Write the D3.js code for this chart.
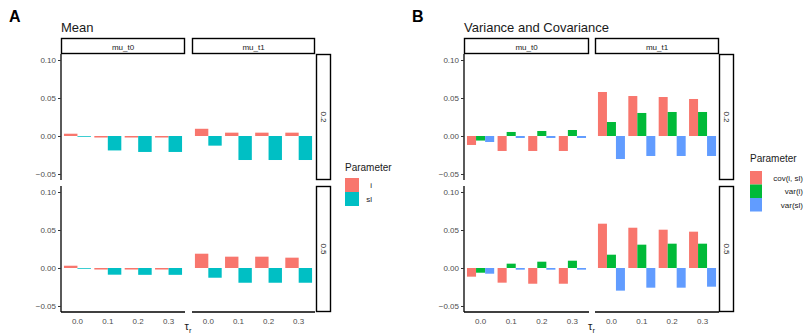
<!DOCTYPE html>
<html><head><meta charset="utf-8">
<script src="https://cdn.jsdelivr.net/npm/d3@7"></script>
<style>body{margin:0;background:#fff}svg{display:block;font-family:"Liberation Sans",Arial,sans-serif}</style>
</head><body><svg id="c" width="804" height="335"></svg>
<script>
// ---- data ----
const tauLabels = ["0.0", "0.1", "0.2", "0.3"];
const muLevels = ["mu_t0", "mu_t1"];
const rowLevels = ["0.2", "0.5"];
const yTicks = [-0.05, 0, 0.05, 0.10];
const meanParams = ["i", "sl"];
const varParams = ["cov(i, sl)", "var(i)", "var(sl)"];
const meanColors = ["#F8766D", "#00BFC4"];
const varColors = ["#F8766D", "#00BA38", "#619CFF"];

// Mean: [row][mu][param][tau]
const mean_r02_t0_i  = [0.003, -0.002, -0.002, -0.002];
const mean_r02_t0_sl = [-0.001, -0.019, -0.021, -0.021];
const mean_r02_t1_i  = [0.0095, 0.0044, 0.0044, 0.0044];
const mean_r02_t1_sl = [-0.0127, -0.0316, -0.0316, -0.0316];
const mean_r05_t0_i  = [0.003, -0.002, -0.002, -0.002];
const mean_r05_t0_sl = [-0.001, -0.0088, -0.009, -0.009];
const mean_r05_t1_i  = [0.0188, 0.0149, 0.0149, 0.0136];
const mean_r05_t1_sl = [-0.0128, -0.0194, -0.0194, -0.0194];

// Variance/covariance
const var_r02_t0_cov = [-0.0118, -0.0197, -0.0197, -0.0197];
const var_r02_t0_vi  = [-0.006, 0.0053, 0.0066, 0.0079];
const var_r02_t0_vsl = [-0.0079, -0.0026, -0.0026, -0.0026];
const var_r02_t1_cov = [0.0579, 0.0526, 0.0513, 0.0487];
const var_r02_t1_vi  = [0.0184, 0.0303, 0.0316, 0.0316];
const var_r02_t1_vsl = [-0.0303, -0.0263, -0.0263, -0.0263];
const var_r05_t0_cov = [-0.0114, -0.0193, -0.0207, -0.0207];
const var_r05_t0_vi  = [-0.0062, 0.0057, 0.0083, 0.0096];
const var_r05_t0_vsl = [-0.0075, -0.0022, -0.0022, -0.0022];
const var_r05_t1_cov = [0.0583, 0.053, 0.0504, 0.0478];
const var_r05_t1_vi  = [0.0175, 0.0307, 0.032, 0.032];
const var_r05_t1_vsl = [-0.0298, -0.0259, -0.0259, -0.0246];

const meanData = [
  [[mean_r02_t0_i, mean_r02_t0_sl], [mean_r02_t1_i, mean_r02_t1_sl]],
  [[mean_r05_t0_i, mean_r05_t0_sl], [mean_r05_t1_i, mean_r05_t1_sl]]
];
const varData = [
  [[var_r02_t0_cov, var_r02_t0_vi, var_r02_t0_vsl], [var_r02_t1_cov, var_r02_t1_vi, var_r02_t1_vsl]],
  [[var_r05_t0_cov, var_r05_t0_vi, var_r05_t0_vsl], [var_r05_t1_cov, var_r05_t1_vi, var_r05_t1_vsl]]
];

const svg = d3.select("#c");
const yDomain = [-0.0579, 0.1079];

function drawFigure(cfg) {
  const g = svg.append("g");
  g.append("text").attr("x", cfg.tagX).attr("y", 22).attr("font-size", 16).attr("font-weight", "bold").text(cfg.tag);
  g.append("text").attr("x", cfg.cols[0][0]).attr("y", 32).attr("font-size", 13).attr("fill", "#1a1a1a").text(cfg.title);

  // top strips
  muLevels.forEach((m, ci) => {
    const [x0, x1] = cfg.cols[ci];
    g.append("rect").attr("x", x0 + 0.5).attr("y", 38.5).attr("width", x1 - x0 - 1).attr("height", 15)
      .attr("fill", "#fff").attr("stroke", "#000").attr("stroke-width", 1.4);
    g.append("text").attr("x", (x0 + x1) / 2).attr("y", 49.5).attr("text-anchor", "middle")
      .attr("font-size", 8).attr("fill", "#1a1a1a").text(m);
  });

  rowLevels.forEach((r, ri) => {
    const [y0, y1] = cfg.rows[ri];
    const y = d3.scaleLinear().domain(yDomain).range([y1, y0]);
    // right strip
    const sx0 = cfg.stripX[0], sx1 = cfg.stripX[1];
    g.append("rect").attr("x", sx0 + 0.5).attr("y", y0 + 0.5).attr("width", sx1 - sx0 - 1).attr("height", y1 - y0 - 1)
      .attr("fill", "#fff").attr("stroke", "#000").attr("stroke-width", 1.4);
    g.append("text").attr("transform", `translate(${(sx0 + sx1) / 2 - 3},${(y0 + y1) / 2}) rotate(90)`)
      .attr("text-anchor", "middle").attr("font-size", 8).attr("fill", "#1a1a1a").text(r);

    muLevels.forEach((m, ci) => {
      const [x0, x1] = cfg.cols[ci];
      const unit = (x1 - x0) / 4.2;
      const x = d3.scaleBand().domain(tauLabels).range([x0 + 0.1 * unit, x1 - 0.1 * unit]).paddingInner(1 / 9).paddingOuter(0);
      const xs = d3.scaleBand().domain(cfg.params).range([0, x.bandwidth()]);
      const series = cfg.data[ri][ci];
      const pg = g.append("g");
      cfg.params.forEach((p, pi) => {
        pg.selectAll(null).data(series[pi]).join("rect")
          .attr("x", (d, i) => x(tauLabels[i]) + xs(p))
          .attr("width", xs.bandwidth())
          .attr("y", d => y(Math.max(0, d)))
          .attr("height", d => Math.abs(y(d) - y(0)))
          .attr("fill", cfg.colors[pi]);
      });
      if (ci === 0) {
        const ax = g.append("g").attr("transform", `translate(${x0},0)`)
          .call(d3.axisLeft(y).tickValues(yTicks).tickFormat(d3.format(".2f")).tickSize(3).tickPadding(2));
        ax.select(".domain").attr("stroke", "#000").attr("stroke-width", 1.3).attr("d", `M0,${y0}V${y1}`);
        ax.selectAll(".tick line").attr("stroke", "#333");
        ax.selectAll(".tick text").attr("font-size", 8).attr("fill", "#4d4d4d").attr("font-family", "Liberation Sans, Arial, sans-serif")
          .text(d => d < 0 ? "\u2212" + d3.format(".2f")(-d) : d3.format(".2f")(d));
      }
      if (ri === 1) {
        const ax = g.append("g").attr("transform", `translate(0,${y1})`)
          .call(d3.axisBottom(x).tickSize(0).tickPadding(6));
        ax.select(".domain").attr("stroke", "#000").attr("stroke-width", 1.3).attr("d", `M${x0},0H${x1}`);
        ax.selectAll(".tick text").attr("font-size", 8).attr("fill", "#4d4d4d").attr("font-family", "Liberation Sans, Arial, sans-serif");
      }
    });
  });

  // x label tau_r
  const cx = (cfg.cols[0][0] + cfg.cols[1][1]) / 2;
  const xl = g.append("text").attr("x", cx).attr("y", 330).attr("text-anchor", "middle").attr("font-size", 11).attr("fill", "#1a1a1a");
  xl.append("tspan").text("\u03C4");
  xl.append("tspan").attr("font-size", 7.5).attr("dy", 3).text("r");

  // legend
  const L = cfg.legend;
  g.append("text").attr("x", L.x).attr("y", L.titleY).attr("font-size", 10).attr("fill", "#1a1a1a").text("Parameter");
  cfg.params.forEach((p, pi) => {
    g.append("rect").attr("x", L.x).attr("y", L.keyY + pi * L.keyH).attr("width", L.keyW).attr("height", L.keyH).attr("fill", cfg.colors[pi]);
    g.append("text").attr("x", L.labelR).attr("y", L.keyY + pi * L.keyH + L.keyH / 2 + 3).attr("text-anchor", "end")
      .attr("font-size", 8).attr("fill", "#1a1a1a").text(p);
  });
}

drawFigure({
  tag: "A", tagX: 9, title: "Mean",
  cols: [[61, 185], [192, 315]], rows: [[54, 180], [186, 312]], stripX: [316, 331],
  params: meanParams, colors: meanColors, data: meanData,
  legend: { x: 345, titleY: 171, keyY: 178, keyW: 14, keyH: 14, labelR: 372 }
});
drawFigure({
  tag: "B", tagX: 412, title: "Variance and Covariance",
  cols: [[464, 589], [595, 719]], rows: [[54, 180], [186, 312]], stripX: [719, 734],
  params: varParams, colors: varColors, data: varData,
  legend: { x: 750, titleY: 162, keyY: 171, keyW: 12, keyH: 13.5, labelR: 803 }
});
</script></body></html>
